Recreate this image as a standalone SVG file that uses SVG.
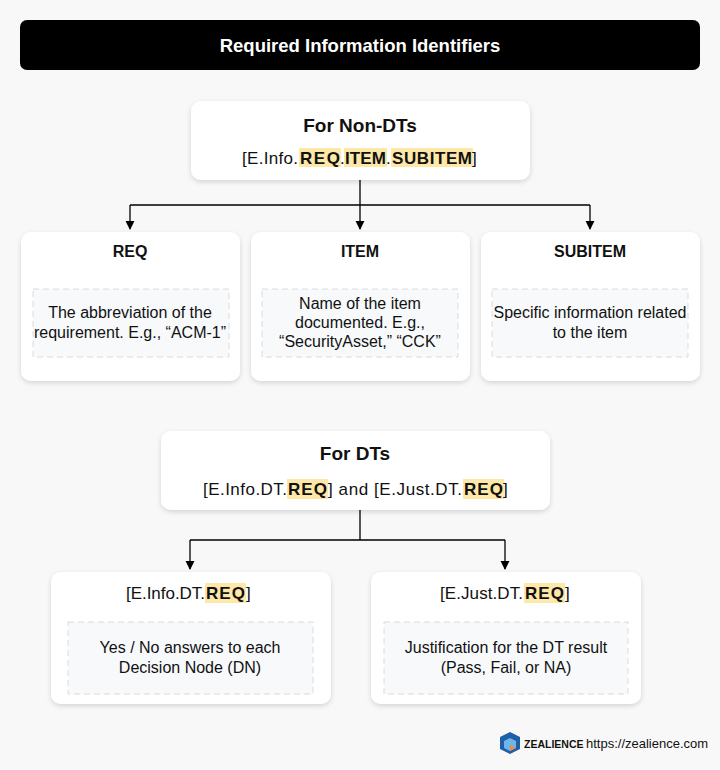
<svg xmlns="http://www.w3.org/2000/svg" width="720" height="770" viewBox="0 0 720 770">
<defs>
<filter id="sh" x="-10%" y="-10%" width="120%" height="130%"><feDropShadow dx="0" dy="2" stdDeviation="2.5" flood-color="#000" flood-opacity="0.15"/></filter>
<marker id="ar" viewBox="0 0 10 10" refX="9" refY="5" markerWidth="7" markerHeight="7" orient="auto"><path d="M0,0 L10,5 L0,10 z" fill="#000"/></marker>
</defs>
<style>
text{font-family:"Liberation Sans",Arial,sans-serif;fill:#111;text-anchor:middle}
.card{fill:#fff;filter:url(#sh)}
.dash{fill:#f7f9fb;stroke:#d8dce0;stroke-dasharray:6 4}
.t{font-size:16px;font-weight:bold}
.b{font-size:16px}
.f{font-size:17px;text-anchor:start}
.k{font-weight:bold}
.hl{fill:#fde8a8}
.conn{stroke:#000;stroke-width:1.3;fill:none}
</style>
<rect width="720" height="770" fill="#f8f8f8"/>
<g id="header"><rect x="20" y="20" width="680" height="50" rx="7" fill="#000"/><text x="360" y="52" style="fill:#fff;font-size:18.5px;font-weight:bold">Required Information Identifiers</text></g>
<g id="connectors">
<path class="conn" d="M360,180 V205 M130,205 H590"/>
<path class="conn" d="M130,205 V229" marker-end="url(#ar)"/>
<path class="conn" d="M360,205 V229" marker-end="url(#ar)"/>
<path class="conn" d="M590,205 V229" marker-end="url(#ar)"/>
<path class="conn" d="M360,510 V540 M190,540 H505"/>
<path class="conn" d="M190,540 V569" marker-end="url(#ar)"/>
<path class="conn" d="M505,540 V569" marker-end="url(#ar)"/>
</g>
<g id="nondt">
<rect class="card" x="191" y="101" width="339" height="79" rx="10"/>
<text x="360" y="132" style="font-size:19px;font-weight:bold">For Non-DTs</text>
<rect class="hl" x="299" y="148" width="42" height="19"/><rect class="hl" x="344" y="148" width="43" height="19"/><rect class="hl" x="391" y="148" width="82" height="19"/>
<text class="f" y="164" lengthAdjust="spacingAndGlyphs"><tspan x="242" textLength="56">[E.Info.</tspan><tspan x="300" class="k" textLength="40">REQ</tspan><tspan x="340">.</tspan><tspan x="345" class="k" textLength="41">ITEM</tspan><tspan x="386">.</tspan><tspan x="392" class="k" textLength="80">SUBITEM</tspan><tspan x="472">]</tspan></text>
</g>
<g id="req">
<rect class="card" x="21" y="232" width="219" height="149" rx="10"/>
<text x="130" y="257" class="t">REQ</text>
<rect class="dash" x="33" y="289" width="196" height="68"/>
<text x="130" y="318" class="b">The abbreviation of the</text>
<text x="130" y="338" class="b">requirement. E.g., “ACM-1”</text>
</g>
<g id="item">
<rect class="card" x="251" y="232" width="219" height="149" rx="10"/>
<text x="360" y="257" class="t">ITEM</text>
<rect class="dash" x="262" y="289" width="196" height="68"/>
<text x="360" y="309" class="b">Name of the item</text>
<text x="360" y="328" class="b">documented. E.g.,</text>
<text x="360" y="347" class="b">“SecurityAsset,” “CCK”</text>
</g>
<g id="subitem">
<rect class="card" x="481" y="232" width="219" height="149" rx="10"/>
<text x="590" y="257" class="t">SUBITEM</text>
<rect class="dash" x="492" y="289" width="196" height="68"/>
<text x="590" y="318" class="b">Specific information related</text>
<text x="590" y="338" class="b">to the item</text>
</g>
<g id="dt">
<rect class="card" x="161" y="431" width="389" height="79" rx="10"/>
<text x="355" y="460" style="font-size:19px;font-weight:bold">For DTs</text>
<rect class="hl" x="287" y="479" width="41" height="20"/><rect class="hl" x="463" y="479" width="41" height="20"/>
<text class="f" y="495"><tspan x="203" textLength="84">[E.Info.DT.</tspan><tspan x="288" class="k" textLength="39">REQ</tspan><tspan x="328" textLength="134">] and  [E.Just.DT.</tspan><tspan x="464" class="k" textLength="39">REQ</tspan><tspan x="503">]</tspan></text>
</g>
<g id="dtinfo">
<rect class="card" x="51" y="572" width="280" height="132" rx="10"/>
<rect class="hl" x="205" y="583" width="41" height="20"/>
<text class="f" y="599"><tspan x="126" textLength="79">[E.Info.DT.</tspan><tspan x="206" class="k" textLength="39">REQ</tspan><tspan x="246">]</tspan></text>
<rect class="dash" x="68" y="622" width="245" height="72"/>
<text x="190" y="653" class="b">Yes / No answers to each</text>
<text x="190" y="673" class="b">Decision Node (DN)</text>
</g>
<g id="dtjust">
<rect class="card" x="371" y="572" width="270" height="132" rx="10"/>
<rect class="hl" x="524" y="583" width="41" height="20"/>
<text class="f" y="599"><tspan x="440" textLength="83">[E.Just.DT.</tspan><tspan x="525" class="k" textLength="39">REQ</tspan><tspan x="565">]</tspan></text>
<rect class="dash" x="384" y="622" width="244" height="72"/>
<text x="506" y="653" class="b">Justification for the DT result</text>
<text x="506" y="673" class="b">(Pass, Fail, or NA)</text>
</g>
<g id="footer">
<polygon points="510,732 520,737 520,749 510,754 500,749 500,737" fill="#1e5fa8"/>
<polygon points="510,738 516,741 516,748 510,751 504,748 504,741" fill="#6fb6e8"/>
<polygon points="510,745 516,748 510,751" fill="#f08a3c"/>
<text x="524" y="748" style="font-size:10.5px;font-weight:bold;text-anchor:start">ZEALIENCE</text>
<text x="586" y="748" style="font-size:13px;text-anchor:start">https://zealience.com</text>
</g>
</svg>
